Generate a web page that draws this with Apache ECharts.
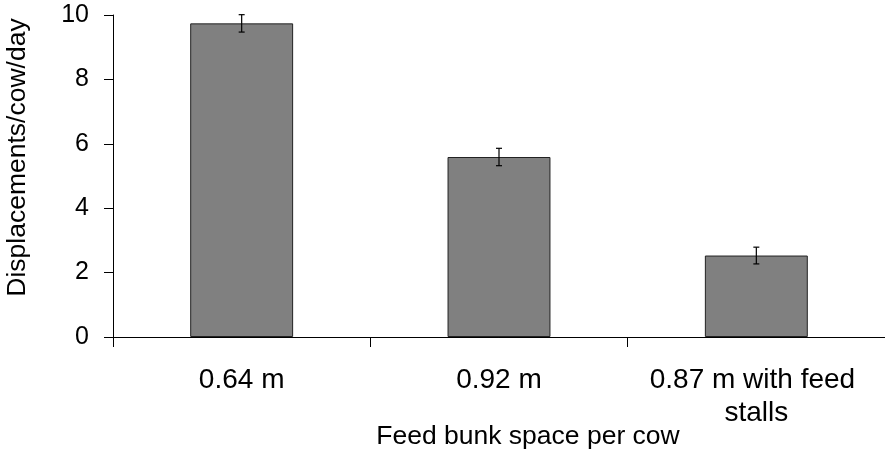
<!DOCTYPE html>
<html>
<head>
<meta charset="utf-8">
<script src="https://cdn.jsdelivr.net/npm/echarts@6/dist/echarts.min.js"></script>
<style>
html,body{margin:0;padding:0;background:#fff;}
#chart{width:885px;height:450px;}
</style>
</head>
<body>
<div id="chart"></div>
<script>
var categories = ['0.64 m', '0.92 m', '0.87 m with feed stalls'];
var values = [9.74, 5.59, 2.53];
var errors = [0.27, 0.27, 0.26];
var yTicks = [0, 2, 4, 6, 8, 10];

var FONT = '"Liberation Sans", Arial, sans-serif';
var chart = echarts.init(document.getElementById('chart'));

var errData = categories.map(function (c, i) {
  return [i, values[i] - errors[i], values[i] + errors[i]];
});

chart.setOption({
  animation: false,
  backgroundColor: '#ffffff',
  grid: { left: 113, right: 0, top: 15, bottom: 113, containLabel: false, outerBoundsMode: 'none' },
  xAxis: {
    type: 'category',
    data: categories,
    boundaryGap: true,
    name: 'Feed bunk space per cow',
    nameLocation: 'middle',
    nameGap: 86,
    nameMoveOverlap: false,
    nameTextStyle: { fontFamily: FONT, fontSize: 26.5, color: '#000', padding: [0, 0, 0, 58] },
    axisLine: { lineStyle: { color: '#000', width: 1 } },
    axisTick: { show: true, inside: false, length: 10, alignWithLabel: false, lineStyle: { color: '#000' } },
    axisLabel: {
      fontFamily: FONT, fontSize: 28, color: '#000', margin: 27,
      lineHeight: 33, width: 230, overflow: 'break', interval: 0
    }
  },
  yAxis: {
    type: 'value',
    min: yTicks[0],
    max: yTicks[yTicks.length - 1],
    interval: yTicks[1] - yTicks[0],
    name: 'Displacements/cow/day',
    nameLocation: 'middle',
    nameGap: 82,
    nameMoveOverlap: false,
    nameRotate: 90,
    nameTextStyle: { fontFamily: FONT, fontSize: 26.5, color: '#000', padding: [0, 0, 0, 37] },
    axisLine: { show: true, lineStyle: { color: '#000', width: 1 } },
    axisTick: { show: true, inside: false, length: 9, lineStyle: { color: '#000' } },
    axisLabel: { fontFamily: FONT, fontSize: 25, color: '#000', margin: 24 },
    splitLine: { show: false }
  },
  series: [
    {
      type: 'bar',
      data: values,
      barWidth: '40%',
      itemStyle: { color: '#808080', borderColor: '#222', borderWidth: 1 }
    },
    {
      type: 'custom',
      data: errData,
      z: 10,
      renderItem: function (params, api) {
        var x = api.value(0);
        var lo = api.coord([x, api.value(1)]);
        var hi = api.coord([x, api.value(2)]);
        var w = 3;
        var style = { stroke: '#000', lineWidth: 1.2 };
        return {
          type: 'group',
          children: [
            { type: 'line', shape: { x1: hi[0], y1: hi[1], x2: lo[0], y2: lo[1] }, style: style },
            { type: 'line', shape: { x1: hi[0] - w, y1: hi[1], x2: hi[0] + w, y2: hi[1] }, style: style },
            { type: 'line', shape: { x1: lo[0] - w, y1: lo[1], x2: lo[0] + w, y2: lo[1] }, style: style }
          ]
        };
      }
    }
  ]
});
</script>
</body>
</html>
